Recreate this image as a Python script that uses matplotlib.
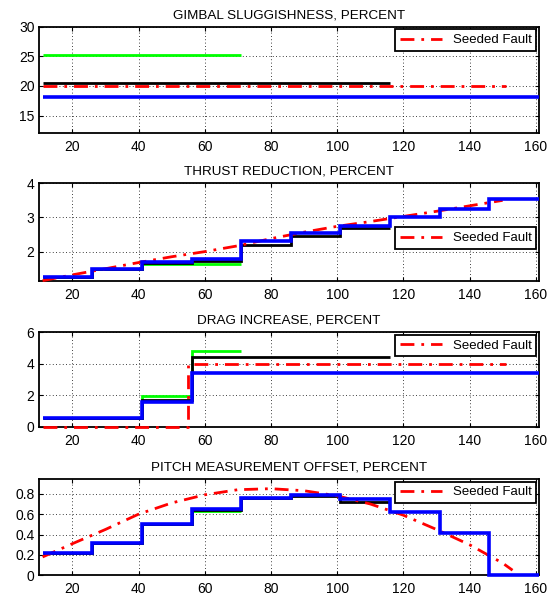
import matplotlib
matplotlib.use("Agg")
import matplotlib.pyplot as plt
import numpy as np

plt.rcParams['font.family'] = ['Liberation Sans', 'DejaVu Sans']

# step edges (time)
edges = [11, 26, 41, 56, 71, 86, 101, 116, 131, 146, 161]

# gimbal sluggishness
gim_green = [25.3] * 4
gim_black = [20.57] * 7
gim_blue = [18.15] * 10
gim_red_x = [11, 151]
gim_red_y = [20, 20]

# thrust reduction
thr_green = [1.26, 1.5, 1.65, 1.65]
thr_black = [1.26, 1.5, 1.67, 1.72, 2.19, 2.46, 2.70]
thr_blue = [1.26, 1.5, 1.69, 1.785, 2.31, 2.54, 2.76, 3.0, 3.25, 3.54]
thr_red_x = [11, 20, 30, 40, 50, 60, 70, 80, 90, 100, 110, 120, 130, 140, 150]
thr_red_y = [1.15, 1.32, 1.5, 1.68, 1.85, 2.0, 2.17, 2.38, 2.57, 2.74, 2.88, 3.03, 3.18, 3.34, 3.5]

# drag increase
drg_green = [0.55, 0.55, 1.98, 4.78]
drg_black = [0.55, 0.55, 1.72, 4.45, 4.45, 4.45, 4.45]
drg_blue = [0.55, 0.55, 1.55, 3.43, 3.43, 3.43, 3.43, 3.43, 3.43, 3.43]
drg_red_x = [11, 55, 55, 151]
drg_red_y = [0, 0, 4, 4]

# pitch measurement offset
pit_green = [0.216, 0.317, 0.5, 0.634]
pit_black = [0.216, 0.317, 0.5, 0.64, 0.755, 0.775, 0.722]
pit_blue = [0.216, 0.317, 0.5, 0.647, 0.76, 0.784, 0.752, 0.624, 0.412, 0.0]
pit_red_x = [11, 20, 30, 40, 50, 60, 70, 80, 90, 100, 110, 120, 130, 140, 150, 153]
pit_red_y = [0.18, 0.31, 0.45, 0.6, 0.71, 0.79, 0.84, 0.85, 0.83, 0.78, 0.7, 0.59, 0.45, 0.3, 0.12, 0.05]

panels = [
    ("GIMBAL SLUGGISHNESS, PERCENT", gim_green, gim_black, gim_blue, gim_red_x, gim_red_y,
     (12, 30), [15, 20, 25, 30], (26.7, 133.3), ('upper right', (1, 1))),
    ("THRUST REDUCTION, PERCENT", thr_green, thr_black, thr_blue, thr_red_x, thr_red_y,
     (1.14, 4), [2, 3, 4], (183.3, 281), ('center right', (1, 0.44))),
    ("DRAG INCREASE, PERCENT", drg_green, drg_black, drg_blue, drg_red_x, drg_red_y,
     (0, 6), [0, 2, 4, 6], (332.3, 426.7), ('upper right', (1, 1))),
    ("PITCH MEASUREMENT OFFSET, PERCENT", pit_green, pit_black, pit_blue, pit_red_x, pit_red_y,
     (0, 0.945), [0, 0.2, 0.4, 0.6, 0.8], (479, 575.3), ('upper right', (1, 1))),
]

W, H = 560, 596
fig = plt.figure(figsize=(W / 100, H / 100), dpi=100)
left, right = 39.3, 539

for title, g, k, b, rx, ry, ylim, yticks, (top, bot), (loc, anchor) in panels:
    ax = fig.add_axes([left / W, 1 - bot / H, (right - left) / W, (bot - top) / H])
    ax.stairs(g, edges[:len(g) + 1], color=(0, 1, 0), lw=2, baseline=None,
              zorder=3, clip_on=False)
    ax.stairs(k, edges[:len(k) + 1], color='black', lw=2, baseline=None,
              zorder=3.1, clip_on=False)
    red, = ax.plot(rx, ry, color='red', lw=2, dashes=(5, 2.5, 1, 2.5), label='Seeded Fault',
                   zorder=3.2, clip_on=False)
    ax.stairs(b, edges[:len(b) + 1], color=(0, 0, 1), lw=2.6, baseline=None,
              zorder=3.3, clip_on=False)
    ax.set_xlim(10, 161)
    ax.set_ylim(*ylim)
    ax.set_xticks(range(20, 161, 20))
    ax.set_yticks(yticks)
    ax.set_yticklabels([('%g' % v) for v in yticks])
    ax.grid(True, color='black', linestyle=(0, (1, 3)), lw=0.6)
    ax.tick_params(direction='in', top=True, right=True, length=3, labelsize=10, width=0.8)
    ax.tick_params(axis='x', pad=5)
    for s in ax.spines.values():
        s.set_linewidth(1.3)
    ax.set_title(title, fontsize=9.7, pad=6)
    leg = ax.legend(handles=[red], loc=loc, bbox_to_anchor=anchor, fontsize=9.5,
                    handlelength=3.2, borderaxespad=0.2, fancybox=False, framealpha=1,
                    borderpad=0.35)
    leg.set_zorder(5)
    leg.get_frame().set_edgecolor('black')
    leg.get_frame().set_linewidth(1.3)

fig.savefig("out.png", dpi=100)
